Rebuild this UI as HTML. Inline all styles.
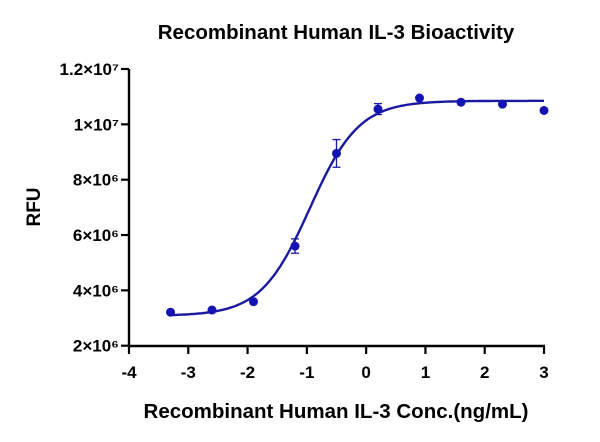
<!DOCTYPE html>
<html><head><meta charset="utf-8"><style>
body{margin:0;background:#fff;}
svg{display:block;font-family:"Liberation Sans",Arial,sans-serif;}
</style></head><body>
<svg width="600" height="442" viewBox="0 0 600 442">
<text x="336" y="39" text-anchor="middle" font-size="20.5" font-weight="bold">Recombinant Human IL-3 Bioactivity</text>
<text x="336" y="418" text-anchor="middle" font-size="20.5" font-weight="bold">Recombinant Human IL-3 Conc.(ng/mL)</text>
<text transform="translate(40,207) rotate(-90)" text-anchor="middle" font-size="19" font-weight="bold">RFU</text>
<g id="axes"></g>
<g id="plot"></g>
</svg>
<script>
const xTicks=[-4,-3,-2,-1,0,1,2,3];
const yTicks=[2,4,6,8,10,12];
const yTickLabels=["2×10⁶","4×10⁶","6×10⁶","8×10⁶","1×10⁷","1.2×10⁷"];
const xVals=[-3.3,-2.6,-1.9,-1.2,-0.5,0.2,0.9,1.6,2.3,3.0];
const yVals=[3.21,3.29,3.59,5.6,8.95,10.55,10.95,10.8,10.73,10.5];
const yErr=[0,0,0,0.26,0.5,0.2,0,0,0,0];
const fitBottom=3.08, fitTop=10.85, fitLogEC50=-0.95, fitHill=1.05;
const NS="http://www.w3.org/2000/svg";
const sx=v=>129+(v+4)*(544-129)/7;
const sy=v=>345.7-(v-2)*(345.7-69)/10;
function mk(tag,attrs,parent){const e=document.createElementNS(NS,tag);for(const k in attrs)e.setAttribute(k,attrs[k]);parent.appendChild(e);return e;}
const ax=document.getElementById('axes'), pl=document.getElementById('plot');
let l=mk('line',{x1:129,y1:69,x2:129,y2:347,stroke:'#000','stroke-width':2.4},ax);


l=mk('line',{x1:128,y1:346,x2:545,y2:346,stroke:'#000','stroke-width':2.4},ax);


xTicks.forEach(t=>{
 mk('line',{x1:sx(t),y1:346,x2:sx(t),y2:354,stroke:'#000','stroke-width':2.2},ax);
 const tx=mk('text',{x:sx(t),y:378,'text-anchor':'middle','font-size':17,'font-weight':'bold'},ax);
 tx.textContent=t;
 
 
});
yTicks.forEach((t,i)=>{
 mk('line',{x1:121,y1:sy(t),x2:129,y2:sy(t),stroke:'#000','stroke-width':2.2},ax);
 const tx=mk('text',{x:119,y:sy(t)+6,'text-anchor':'end','font-size':17,'font-weight':'bold'},ax);
 tx.textContent=yTickLabels[i];
 
 
});
let d='';
for(let i=0;i<=200;i++){const x=xVals[0]+(3.0-xVals[0])*i/200;const y=fitBottom+(fitTop-fitBottom)/(1+Math.pow(10,(fitLogEC50-x)*fitHill));d+=(i?'L':'M')+sx(x).toFixed(1)+','+sy(y).toFixed(1);}
const c=mk('path',{d:d,fill:'none',stroke:'#1a1aa0','stroke-width':2.4},pl);


xVals.forEach((x,i)=>{
 if(yErr[i]>0){
  const g=mk('path',{d:`M${sx(x)},${sy(yVals[i]+yErr[i])}V${sy(yVals[i]-yErr[i])}M${sx(x)-4},${sy(yVals[i]+yErr[i])}h8M${sx(x)-4},${sy(yVals[i]-yErr[i])}h8`,stroke:'#1a1aa0','stroke-width':1.3,fill:'none'},pl);
  
  
 }
 const p=mk('circle',{cx:sx(x),cy:sy(yVals[i]),r:4.5,fill:'#1414b4'},pl);
 
 
});
</script>
</body></html>
